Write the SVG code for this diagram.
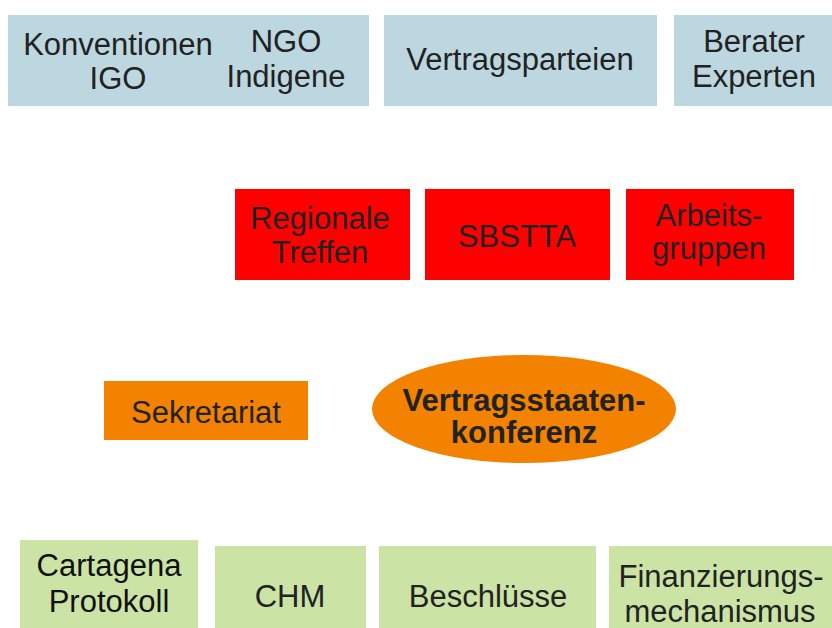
<svg xmlns="http://www.w3.org/2000/svg" width="832" height="628" viewBox="0 0 832 628">
<style>
text{font-family:"Liberation Sans",Arial,sans-serif;font-size:31px;fill:#222;text-anchor:middle}
.b{fill:#BDD7E1}
.r{fill:#FF0000}
.o{fill:#F28200}
.g{fill:#CBE4A5}
.bold{font-weight:bold}
</style>
<rect width="832" height="628" fill="#fff"/>
<g id="konventionen-ngo">
<rect class="b" x="8" y="15" width="361" height="91"/>
<text x="118" y="55">Konventionen</text>
<text x="118" y="89">IGO</text>
<text x="286" y="52">NGO</text>
<text x="286" y="87">Indigene</text>
</g>
<g id="vertragsparteien">
<rect class="b" x="384" y="15" width="273" height="91"/>
<text x="520" y="70">Vertragsparteien</text>
</g>
<g id="berater">
<rect class="b" x="674" y="15" width="158" height="91"/>
<text x="754" y="52">Berater</text>
<text x="754" y="87">Experten</text>
</g>
<g id="regionale">
<rect class="r" x="235" y="189" width="175" height="91"/>
<text x="320" y="229">Regionale</text>
<text x="320" y="263">Treffen</text>
</g>
<g id="sbstta">
<rect class="r" x="425" y="189" width="185" height="91"/>
<text x="517" y="247">SBSTTA</text>
</g>
<g id="arbeitsgruppen">
<rect class="r" x="626" y="189" width="168" height="91"/>
<text x="709" y="226">Arbeits-</text>
<text x="709" y="259">gruppen</text>
</g>
<g id="sekretariat">
<rect class="o" x="104" y="381" width="204" height="59"/>
<text x="206" y="423">Sekretariat</text>
</g>
<g id="konferenz">
<ellipse class="o" cx="524" cy="409" rx="152" ry="54"/>
<text class="bold" x="524" y="411">Vertragsstaaten-</text>
<text class="bold" x="524" y="443">konferenz</text>
</g>
<g id="cartagena">
<rect class="g" x="20" y="540" width="178" height="88"/>
<text x="109" y="576" style="fill:#111">Cartagena</text>
<text x="109" y="612" style="fill:#111">Protokoll</text>
</g>
<g id="chm">
<rect class="g" x="215" y="546" width="151" height="82"/>
<text x="290" y="607">CHM</text>
</g>
<g id="beschluesse">
<rect class="g" x="379" y="546" width="217" height="82"/>
<text x="488" y="607">Beschlüsse</text>
</g>
<g id="finanzierung">
<rect class="g" x="609" y="546" width="223" height="82"/>
<text x="721" y="587">Finanzierungs-</text>
<text x="720" y="622">mechanismus</text>
</g>
<g id="connectors"></g>
</svg>
